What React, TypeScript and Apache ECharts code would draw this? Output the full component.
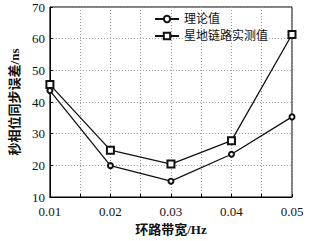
import React, { useEffect, useRef } from "react";
import * as echarts from "echarts";

const bandwidths = [0.01, 0.02, 0.03, 0.04, 0.05];
const theoryValues = [43.6, 19.9, 15.0, 23.5, 35.3];
const measuredValues = [45.5, 24.8, 20.4, 27.8, 61.3];
const seriesNames = ["理论值", "星地链路实测值"];
const xName = "环路带宽/Hz";
const yName = "秒相位同步误差/ns";

const FONT = "Liberation Serif, Noto Sans CJK SC, serif";

export default function App() {
  const ref = useRef<HTMLDivElement>(null);
  useEffect(() => {
    const chart = echarts.init(ref.current!, null, { renderer: "svg" });
    chart.setOption({
      animation: false,
      backgroundColor: "#fff",
      textStyle: { fontFamily: FONT },
      grid: { left: 41, right: 27, top: 7, bottom: 40, show: true, borderColor: "#000", borderWidth: 1 },
      legend: {
        right: 46,
        top: 8,
        orient: "vertical",
        itemGap: 5,
        itemWidth: 24,
        itemHeight: 8,
        textStyle: { fontFamily: FONT, fontSize: 12, color: "#111" },
        data: seriesNames,
      },
      xAxis: {
        type: "value",
        min: 0.01,
        max: 0.05,
        interval: 0.005,
        name: xName,
        nameLocation: "middle",
        nameGap: 26,
        nameTextStyle: { fontFamily: FONT, fontSize: 13, color: "#111", fontWeight: "bold" },
        axisLine: { show: true, lineStyle: { color: "#000" } },
        axisTick: { inside: true, length: 3, lineStyle: { color: "#000" } },
        axisLabel: {
          color: "#111",
          fontSize: 13,
          fontFamily: FONT,
          margin: 8,
          formatter: (v: number) => (Math.abs(v * 100 - Math.round(v * 100)) < 1e-6 ? v.toFixed(2) : ""),
        },
        splitLine: { show: true, lineStyle: { color: "#999", type: [1, 2], width: 1 } },
      },
      yAxis: {
        type: "value",
        min: 10,
        max: 70,
        interval: 10,
        name: yName,
        nameLocation: "middle",
        nameGap: 26,
        nameTextStyle: { fontFamily: FONT, fontSize: 13, color: "#111", fontWeight: "bold" },
        axisLine: { show: true, lineStyle: { color: "#000" } },
        axisTick: { show: true, inside: true, length: 3, lineStyle: { color: "#000" } },
        axisLabel: { color: "#111", fontSize: 13, fontFamily: FONT, margin: 5 },
        splitLine: { show: true, lineStyle: { color: "#999", type: [1, 2], width: 1 } },
      },
      series: [
        {
          name: seriesNames[0],
          type: "line",
          data: bandwidths.map((x, i) => [x, theoryValues[i]]),
          symbol: "emptyCircle",
          symbolSize: 5,
          lineStyle: { color: "#111", width: 1.3 },
          itemStyle: { color: "#111", borderColor: "#111", borderWidth: 1 },
        },
        {
          name: seriesNames[1],
          type: "line",
          data: bandwidths.map((x, i) => [x, measuredValues[i]]),
          symbol: "emptyRect",
          symbolSize: 7,
          lineStyle: { color: "#111", width: 1.3 },
          itemStyle: { color: "#111", borderColor: "#111", borderWidth: 1 },
        },
      ],
    });
    return () => chart.dispose();
  }, []);
  return <div ref={ref} style={{ width: 319, height: 241, position: "absolute", left: 0, top: 0 }} />;
}
